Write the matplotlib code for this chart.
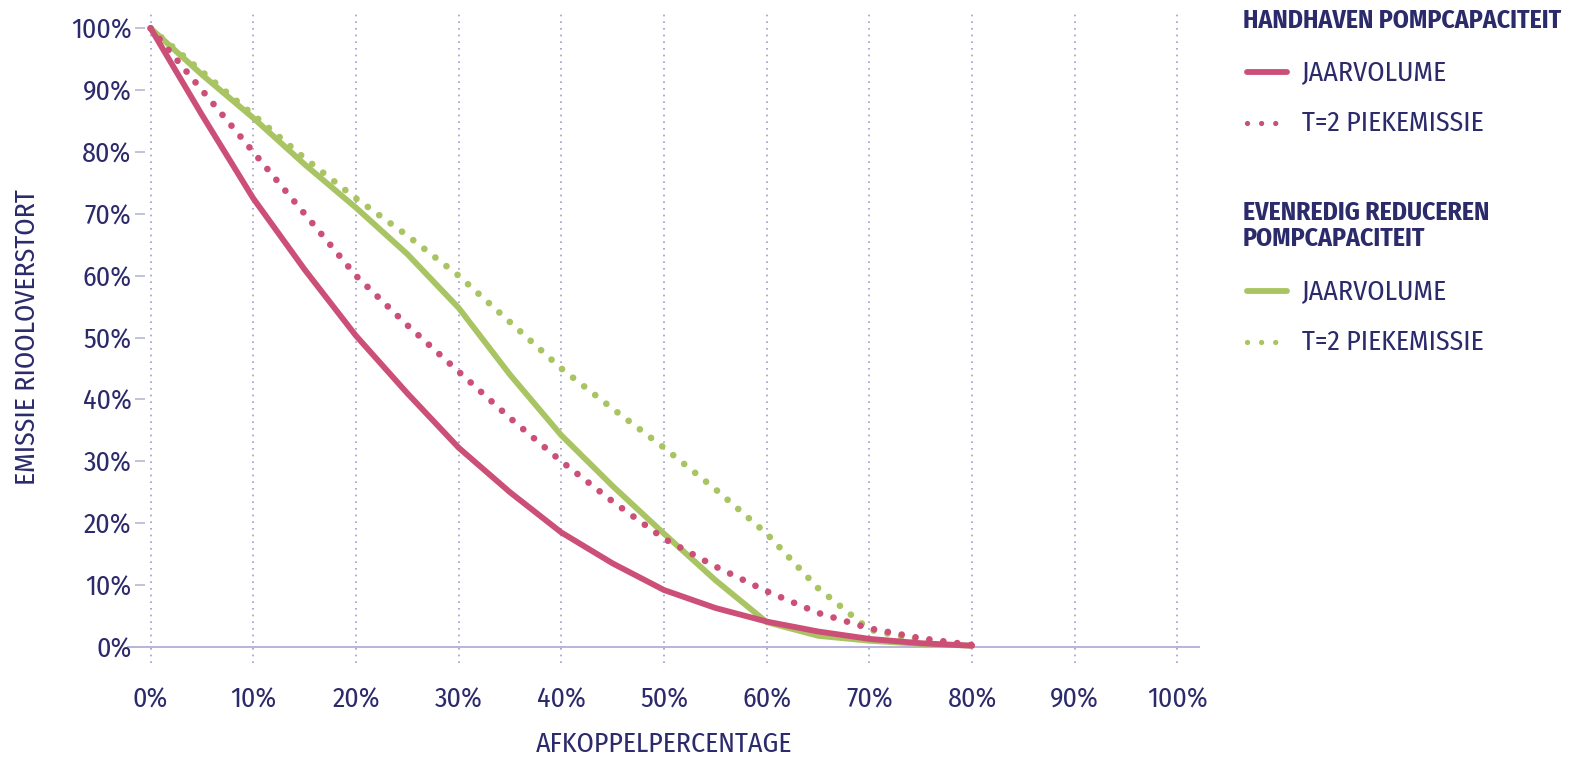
import matplotlib
matplotlib.use('Agg')
import matplotlib.pyplot as plt
from matplotlib.lines import Line2D
from matplotlib.ticker import PercentFormatter

# afkoppelpercentage (%)
afkoppel = [0, 5, 10, 15, 20, 25, 30, 35, 40, 45, 50, 55, 60, 65, 70, 75, 80]

# handhaven pompcapaciteit
hh_jaarvolume = [100, 86, 72.5, 61, 50.3, 41, 32.2, 25, 18.5, 13.5, 9.2, 6.3, 4.1, 2.5, 1.3, 0.6, 0.2]
hh_piek = [100, 90, 80, 70, 60, 52, 44.5, 37, 30, 23.5, 17.5, 13, 9, 5.5, 3, 1.4, 0.3]

# evenredig reduceren pompcapaciteit
ev_jaarvolume = [100, 92.5, 85.5, 78, 71, 63.5, 54.8, 44, 34.2, 26, 18.3, 10.8, 4, 1.8, 1.0, 0.5, 0.2]
ev_piek = [100, 93, 86, 79, 72.5, 66.5, 60, 52.5, 45, 38.5, 32.2, 25.5, 18.3, 9.5, 2.8, 1.0, 0.3]

x_ticks = list(range(0, 101, 10))
y_ticks = list(range(0, 101, 10))

navy = '#2b2a6b'
pink = '#cc4f78'
green = '#a9c462'
grid_col = '#9e9bcb'

plt.rcParams['font.family'] = ['Fira Sans Condensed', 'DejaVu Sans']

fig = plt.figure(figsize=(15.95, 7.6), dpi=100)
ax = fig.add_axes([0.0796, 0.1276, 0.6728, 0.8564])

ax.set_xlim(-2.3, 102.2)
ax.set_ylim(-2.6, 102.6)

for xt in x_ticks:
    ax.axvline(xt, color=grid_col, lw=1.2, ls=(0, (1, 3)), zorder=1)
ax.axhline(0, color='#aaa8d2', lw=1.2, zorder=1)

dots = (0, (0.01, 2.1))
ax.plot(afkoppel, ev_piek, color=green, lw=4.8, ls=dots, dash_capstyle='round', zorder=3)
ax.plot(afkoppel, ev_jaarvolume, color=green, lw=4.2, solid_capstyle='round', zorder=3)
ax.plot(afkoppel, hh_piek, color=pink, lw=4.8, ls=dots, dash_capstyle='round', zorder=4)
ax.plot(afkoppel, hh_jaarvolume, color=pink, lw=4.2, solid_capstyle='round', zorder=4)

for s in ax.spines.values():
    s.set_visible(False)
ax.spines['left'].set_position(('data', -0.5))

ax.set_xticks(x_ticks)
ax.set_yticks(y_ticks)
ax.xaxis.set_major_formatter(PercentFormatter(decimals=0))
ax.yaxis.set_major_formatter(PercentFormatter(decimals=0))
ax.tick_params(axis='x', length=0, pad=17, labelsize=20, labelcolor=navy)
ax.tick_params(axis='y', length=7, width=1.2, color='#b9b7d6', pad=3, labelsize=20, labelcolor=navy)

ax.set_xlabel('AFKOPPELPERCENTAGE', fontsize=20, color=navy, labelpad=13)
ax.set_ylabel('EMISSIE RIOOLOVERSTORT', fontsize=20, color=navy, labelpad=22)

# legenda
lx0, lx1, tx = 1247 / 1595, 1287 / 1595, 1302 / 1595

def fy(py):
    return 1 - py / 760

fig.text(1243 / 1595, fy(21), 'HANDHAVEN POMPCAPACITEIT', fontsize=18.5, fontweight='bold',
         color=navy, va='center', ha='left')
fig.text(1243 / 1595, fy(226), 'EVENREDIG REDUCEREN\nPOMPCAPACITEIT', fontsize=18.5, fontweight='bold',
         color=navy, va='center', ha='left', linespacing=1.05)

legend_rows = [
    (72, pink, '-', 'JAARVOLUME'),
    (123, pink, (0, (0.01, 2.66)), 'T=2 PIEKEMISSIE'),
    (291, green, '-', 'JAARVOLUME'),
    (342, green, (0, (0.01, 2.66)), 'T=2 PIEKEMISSIE'),
]
for py, col, ls, label in legend_rows:
    fig.add_artist(Line2D([lx0, lx1], [fy(py), fy(py)], color=col, lw=4.2 if ls == '-' else 3.8,
                          ls=ls, solid_capstyle='round', dash_capstyle='round'))
    fig.text(tx, fy(py), label, fontsize=20, color=navy, va='center', ha='left')

fig.savefig('out.png', dpi=100)
